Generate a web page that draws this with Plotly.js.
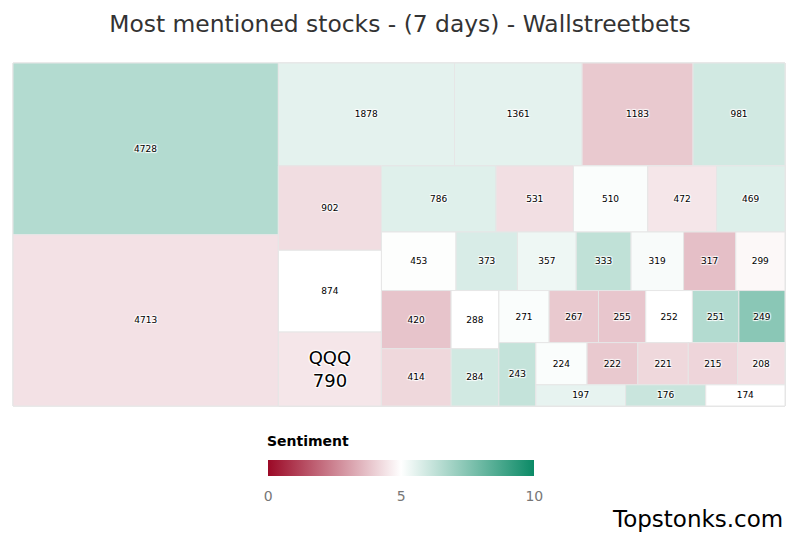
<!DOCTYPE html>
<html>
<head>
<meta charset="utf-8">
<script src="https://cdn.plot.ly/plotly-3.0.1.min.js"></script>
<style>html,body{margin:0;padding:0;background:#fff;}#chart{width:800px;height:533px;}</style>
</head>
<body>
<div id="chart"></div>
<script>
// Tickers (logos in the original; only QQQ is shown as text)
const rootLabel = "Wallstreetbets";
const tickers = ["S01","S02","S03","S04","S05","S06","S07","S08","QQQ","S10",
  "S11","S12","S13","S14","S15","S16","S17","S18","S19","S20",
  "S21","S22","S23","S24","S25","S26","S27","S28","S29","S30",
  "S31","S32","S33","S34","S35","S36","S37","S38","S39","S40"];
// Mentions over 7 days (in tile order)
const mentions = [4728,4713,1878,1361,1183,981,902,874,790,786,
  531,510,472,469,453,373,357,333,319,317,
  299,420,414,288,284,271,267,255,252,251,
  249,243,224,222,221,215,208,197,176,174];
// Sentiment score (0-10)
const sentiment = [6.55,4.4,5.55,5.55,3.9,5.95,4.3,5.0,4.5,5.65,
  4.35,5.1,4.5,5.7,5.05,5.8,5.35,6.3,5.15,3.7,
  4.85,3.8,4.2,5.0,5.95,5.1,3.9,3.85,5.0,6.55,
  7.4,6.2,5.1,3.9,4.2,4.15,4.35,5.5,6.1,5.0];
const sentimentTicks = [0,5,10];
const highlighted = "QQQ";

// Tiling structure (strips of consecutive tickers, nested groups alternate direction)
const stripSizes = [2,4,3,5,7,2,2,6,1,5,3];
const stripsPerLevel = [1,1,1,2,2,1,1,2];

const ids = ["root"], labels = [rootLabel], parents = [""], values = [0], colors = [5], texts = [""], sizes = [9];
function pushNode(id, label, parent, value, color, text, size) {
  ids.push(id); labels.push(label); parents.push(parent); values.push(value);
  colors.push(color); texts.push(text); sizes.push(size);
}
let item = 0, stripNo = 0, container = "root";
stripsPerLevel.forEach((n, level) => {
  for (let s = 0; s < n; s++) {
    const sid = "strip" + stripNo;
    pushNode(sid, "", container, 0, 5, "", 9);
    for (let k = 0; k < stripSizes[stripNo]; k++) {
      const t = tickers[item];
      pushNode("t" + item, t, sid, mentions[item], sentiment[item],
        t === highlighted ? t + "<br>" + mentions[item] : String(mentions[item]),
        t === highlighted ? 18 : 9);
      item++;
    }
    stripNo++;
  }
  if (level < stripsPerLevel.length - 1) {
    const cid = "group" + level;
    pushNode(cid, "", container, 0, 5, "", 9);
    container = cid;
  }
});

const trace = {
  type: "treemap",
  ids: ids,
  labels: labels,
  parents: parents,
  values: values,
  text: texts,
  textinfo: "text",
  textposition: "middle center",
  textfont: {family: "DejaVu Sans", size: sizes, color: "#000", shadow: "1px 1px 1px #fff, -1px -1px 1px #fff, 1px -1px 1px #fff, -1px 1px 1px #fff"},
  marker: {
    colors: colors,
    colorscale: [[0,"#9b0926"],[0.5,"#ffffff"],[1,"#0b8a66"]],
    cmin: 0, cmax: 10,
    line: {color: "#e6e6e6", width: 1},
    pad: {t: 0, l: 0, r: 0, b: 0},
    showscale: true,
    colorbar: {
      orientation: "h",
      tickvals: sentimentTicks,
      ticktext: sentimentTicks.map(String),
      tickfont: {family: "DejaVu Sans", size: 14, color: "#777"},
      ticks: "outside", ticklen: 9, tickcolor: "rgba(0,0,0,0)",
      thickness: 16, len: 266, lenmode: "pixels",
      xref: "paper", x: 0.503, xanchor: "center",
      y: -0.157, yanchor: "top",
      outlinewidth: 0, ypad: 0, xpad: 0
    }
  },
  tiling: {packing: "slice-dice", pad: 0},
  pathbar: {visible: false},
  sort: false,
  hoverinfo: "label+value"
};

const layout = {
  width: 800, height: 533,
  margin: {l: 13, r: 15, t: 63, b: 127},
  paper_bgcolor: "#fff",
  font: {family: "DejaVu Sans", color: "#333"},
  title: {text: "Most mentioned stocks - (7 days) - Wallstreetbets", x: 0.5, xanchor: "center", y: 0.956, yanchor: "middle",
          font: {family: "DejaVu Sans", size: 23.4, color: "#333"}},
  annotations: [
    {text: "<b>Sentiment</b>", xref: "paper", yref: "paper", x: 0.327, y: -0.102, xanchor: "left", yanchor: "middle",
     showarrow: false, font: {family: "DejaVu Sans", size: 14, color: "#000"}},
    {text: "Topstonks.com", xref: "paper", yref: "paper", x: 1.0, y: -0.33, xanchor: "right", yanchor: "middle",
     showarrow: false, font: {family: "DejaVu Sans", size: 23, color: "#000"}}
  ]
};

Plotly.newPlot("chart", [trace], layout, {displayModeBar: false, staticPlot: true});
</script>
</body>
</html>
